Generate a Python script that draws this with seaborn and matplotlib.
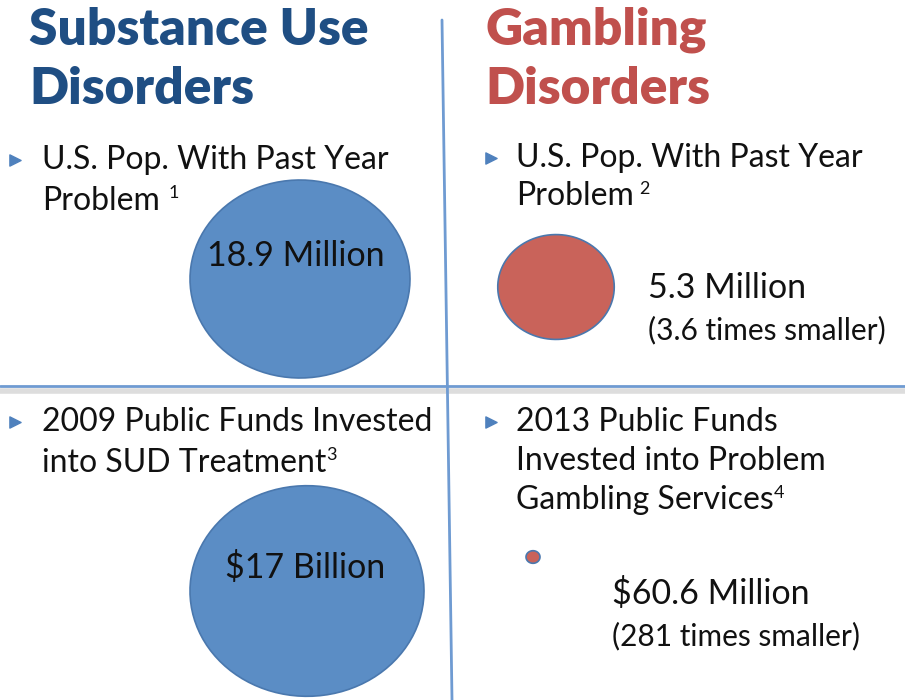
import numpy as np
import pandas as pd
import matplotlib
matplotlib.use("Agg")
import matplotlib.pyplot as plt
from matplotlib.path import Path
import seaborn as sns

sns.set_theme(style="white")
plt.rcParams['font.family'] = ['Lato', 'DejaVu Sans']

# data
panels = ["SUD pop", "Gambling pop", "SUD funds", "Gambling funds"]
groups = ["Substance", "Gambling", "Substance", "Gambling"]
values = [18.9, 5.3, 17000, 60.6]          # millions (people / dollars)
row = ["top", "top", "bottom", "bottom"]
value_labels = ["18.9 Million", "5.3 Million", "$17 Billion", "$60.6 Million"]
ratio_labels = ["", "(3.6 times smaller)", "", "(281 times smaller)"]

# layout (pixels, figure is 905x700)
cx = [300, 556, 307, 533]
cy = [279, 287, 591, 557]
area_of_biggest = {"top": 25090, "bottom": 28390}   # points^2

df = pd.DataFrame({"panel": panels, "group": groups, "value": values,
                   "row": row, "x": cx, "y": cy})
row_max = df.groupby("row")["value"].transform("max")
df["area"] = df["value"] / row_max * df["row"].map(area_of_biggest)

blue_dark = "#1F4E83"
red_title = "#C0504D"
fill = {"Substance": "#5B8DC5", "Gambling": "#C9635A"}
line_col = "#6F9BD2"
ink = "#111111"

fig = plt.figure(figsize=(9.05, 7), dpi=100)
ax = fig.add_axes([0, 0, 1, 1])

# divider lines
ax.plot([0, 905], [391, 391], color="#DDDDDD", lw=4, zorder=1)
ax.plot([0, 905], [386, 386], color=line_col, lw=2, zorder=2)
ax.plot([442, 452], [20, 700], color=line_col, lw=2, zorder=2)

# slightly flattened circles (slide was stretched)
t = np.linspace(0, 2 * np.pi, 100)
ellipse = Path(np.column_stack([np.cos(t), 0.9 * np.sin(t)]), closed=True)

sns.scatterplot(data=df, x="x", y="y", hue="group", palette=fill,
                size="value", sizes=dict(zip(df["value"], df["area"])),
                marker=ellipse, edgecolor="#4A78AE", linewidth=1.2,
                legend=False, ax=ax, zorder=3)
ax.set_xlim(0, 905)
ax.set_ylim(700, 0)
ax.axis("off")

# titles
title = dict(fontsize=37, fontweight="heavy", va="center", ha="left")
ax.text(29, 30, "Substance Use", color=blue_dark, **title)
ax.text(29, 89, "Disorders", color=blue_dark, **title)
ax.text(485, 30, "Gambling", color=red_title, **title)
ax.text(485, 89, "Disorders", color=red_title, **title)

# bullets
bullet_x = [15, 491, 15, 491]
bullet_y = [160, 158, 422, 422]
ax.scatter(bullet_x, bullet_y, marker=">", s=65, color="#4F81BD", zorder=4)

body = dict(fontsize=23, color=ink, va="center", ha="left")


def with_note(x, y, s, note, gap=0):
    t = ax.text(x, y, s, **body)
    ax.annotate(note, xy=(1, 0.75), xycoords=t, xytext=(gap, 0),
                textcoords="offset points", fontsize=13, color=ink,
                ha="left", va="center")


ax.text(42, 160, "U.S. Pop. With Past Year", **body)
with_note(42, 201, "Problem", "1", gap=6)
ax.text(516, 158, "U.S. Pop. With Past Year", **body)
with_note(516, 196, "Problem", "2", gap=4)
ax.text(42, 422, "2009 Public Funds Invested", **body)
with_note(42, 463, "into SUD Treatment", "3")
ax.text(516, 422, "2013 Public Funds", **body)
ax.text(516, 461, "Invested into Problem", **body)
with_note(516, 500, "Gambling Services", "4")

# value labels
big = dict(fontsize=24.5, color=ink, va="center")
small = dict(fontsize=21.5, color=ink, va="center", ha="left")
ax.text(296, 256, value_labels[0], ha="center", zorder=5, **big)
ax.text(648, 288, value_labels[1], ha="left", **big)
ax.text(648, 330, ratio_labels[1], **small)
ax.text(305, 567, value_labels[2], ha="center", zorder=5, **big)
ax.text(612, 593, value_labels[3], ha="left", **big)
ax.text(612, 636, ratio_labels[3], **small)

fig.savefig("out.png", dpi=100)
